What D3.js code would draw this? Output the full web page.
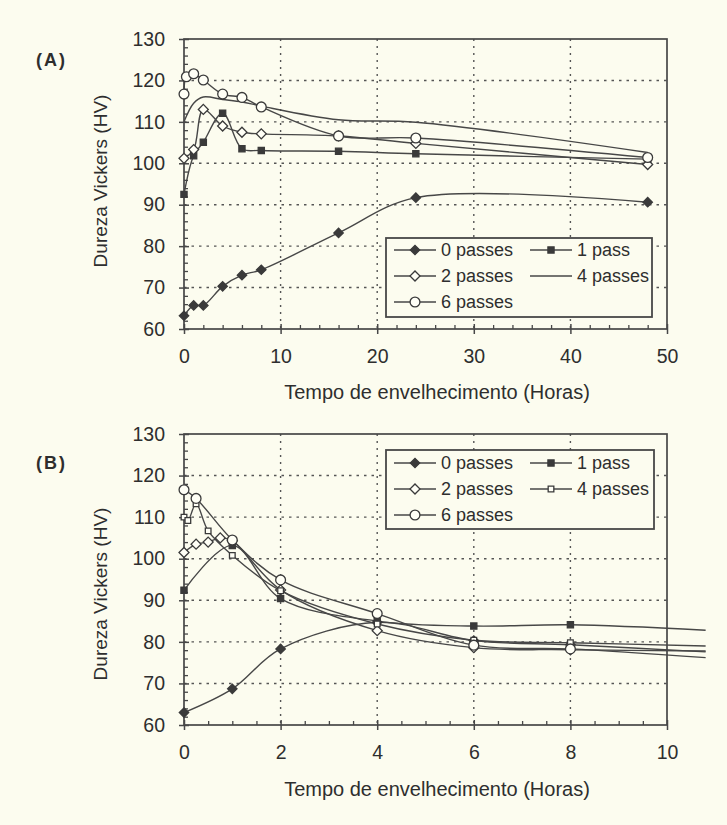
<!DOCTYPE html>
<html><head><meta charset="utf-8">
<script src="https://cdn.jsdelivr.net/npm/d3@7"></script>
<style>
html,body{margin:0;padding:0;background:#fcfcef;}
svg text{font-family:"Liberation Sans",Arial,sans-serif;fill:#2e2e2e;}
</style></head>
<body><svg id="c" width="727" height="825"></svg>
<script>
// ---------- DATA ----------
const seriesNames = ["0 passes", "1 pass", "2 passes", "4 passes", "6 passes"];
const yTicks = [60, 70, 80, 90, 100, 110, 120, 130];
const xTicksA = [0, 10, 20, 30, 40, 50];
const xTicksB = [0, 2, 4, 6, 8, 10];
const yTitle = "Dureza Vickers (HV)";
const xTitle = "Tempo de envelhecimento (Horas)";

// Panel A (long aging times)
const a0x = [0, 1, 2, 4, 6, 8, 16, 24, 48];
const a0y = [63.2, 65.7, 65.7, 70.3, 73.0, 74.3, 83.2, 91.7, 90.6];
const a1x = [0, 1, 2, 4, 6, 8, 16, 24, 48];
const a1y = [92.5, 101.8, 105.1, 112.1, 103.5, 103.1, 102.9, 102.3, 101.0];
const a2x = [0, 1, 2, 4, 6, 8, 16, 24, 48];
const a2y = [101.2, 103.3, 113.0, 109.0, 107.5, 107.1, 106.6, 104.8, 99.7];
const a4x = [0, 1, 2, 4, 6, 8, 16, 24, 48];
const a4y = [110.0, 114.5, 116.0, 115.4, 114.8, 113.8, 110.5, 109.9, 102.6];
const a6x = [0, 0.25, 1, 2, 4, 6, 8, 16, 24, 48];
const a6y = [116.7, 120.9, 121.6, 120.1, 116.7, 115.9, 113.6, 106.6, 106.1, 101.4];

// Panel B (short aging times; lines run slightly past 10 h)
const b0x = [0, 1, 2, 4, 6, 8, 10.8];
const b0y = [63.0, 68.7, 78.3, 84.7, 80.3, 79.3, 77.6];
const b1x = [0, 1, 2, 4, 6, 8, 10.8];
const b1y = [92.4, 103.2, 90.4, 85.0, 83.8, 84.1, 82.8];
const b2x = [0, 0.25, 0.5, 0.75, 1, 2, 4, 6, 8, 10.8];
const b2y = [101.5, 103.5, 104.0, 105.0, 104.3, 92.5, 82.7, 78.6, 78.1, 77.8];
const b4x = [0, 0.08, 0.25, 0.5, 1, 2, 4, 6, 8, 10.8];
const b4y = [110.0, 109.2, 113.2, 106.7, 100.8, 92.3, 84.3, 80.4, 79.8, 79.0];
const b6x = [0, 0.25, 1, 2, 4, 6, 8, 10.8];
const b6y = [116.6, 114.5, 104.5, 94.9, 86.8, 79.2, 78.3, 76.2];

// ---------- STYLE / LAYOUT ----------
const INK = "#474747";
const BG = "#fcfcef";
const markerA = ["fdiamond", "fsquare", "odiamond", null, "ocircle"];
const markerB = ["fdiamond", "fsquare", "odiamond", "osquare", "ocircle"];

const panels = [
  {label: "(A)", labelY: 60, top: 39, bottom: 329, left: 184, right: 667,
   xmax: 50, xTicks: xTicksA, xMinorStep: 2,
   series: [[a0x, a0y], [a1x, a1y], [a2x, a2y], [a4x, a4y], [a6x, a6y]],
   markers: markerA, legend: {x: 386, y: 238, w: 266, h: 79, rows: [250, 276, 302]},
   yTitleY: 181, xTitleY: 399},
  {label: "(B)", labelY: 463, top: 434, bottom: 725, left: 184, right: 667,
   xmax: 10, xTicks: xTicksB, xMinorStep: 0.5,
   series: [[b0x, b0y], [b1x, b1y], [b2x, b2y], [b4x, b4y], [b6x, b6y]],
   markers: markerB, legend: {x: 386, y: 450, w: 268, h: 79, rows: [463, 489, 515]},
   yTitleY: 594, xTitleY: 796}
];

const svg = d3.select("#c");
svg.append("rect").attr("width", 727).attr("height", 825).attr("fill", BG);

function drawMarker(g, type, cx, cy) {
  if (!type) return;
  let sym, size, rot = 0, filled = type[0] === "f";
  if (type.endsWith("diamond")) { sym = d3.symbolSquare; size = filled ? 44 : 50; rot = 45; }
  else if (type.endsWith("square")) { sym = d3.symbolSquare; size = filled ? 38 : 32; }
  else { sym = d3.symbolCircle; size = 76; }
  g.append("path")
    .attr("d", d3.symbol().type(sym).size(size)())
    .attr("transform", `translate(${cx},${cy}) rotate(${rot})`)
    .attr("fill", filled ? "#3a3a3a" : "#fffff6")
    .attr("stroke", "#3a3a3a").attr("stroke-width", 1.3);
}

panels.forEach(p => {
  const x = d3.scaleLinear().domain([0, p.xmax]).range([p.left, p.right]);
  const y = d3.scaleLinear().domain([60, 130]).range([p.bottom, p.top]);
  const g = svg.append("g");

  // gridlines
  g.selectAll(".hg").data(yTicks.filter(v => v > 60 && v < 130)).join("line")
    .attr("x1", p.left).attr("x2", p.right).attr("y1", d => y(d)).attr("y2", d => y(d))
    .attr("stroke", "#555").attr("stroke-width", 1.4).attr("stroke-dasharray", "2.5,5");
  g.selectAll(".vg").data(p.xTicks.filter(v => v > 0 && v < p.xmax)).join("line")
    .attr("y1", p.top).attr("y2", p.bottom).attr("x1", d => x(d)).attr("x2", d => x(d))
    .attr("stroke", "#555").attr("stroke-width", 1.4).attr("stroke-dasharray", "2,5");

  // frame
  g.append("rect").attr("x", p.left).attr("y", p.top)
    .attr("width", p.right - p.left).attr("height", p.bottom - p.top)
    .attr("fill", "none").attr("stroke", INK).attr("stroke-width", 1.7);

  // y axis
  const yMinor = d3.range(60, 130.01, 2).filter(v => v % 10 !== 0);
  const ya = g.append("g").attr("transform", `translate(${p.left},0)`)
    .call(d3.axisLeft(y).tickValues(yTicks).tickSize(5).tickSizeOuter(0).tickPadding(14).tickFormat(d3.format("d")));
  ya.select(".domain").remove();
  ya.selectAll("line").attr("x1", 5).attr("stroke", INK).attr("stroke-width", 1.5);
  ya.selectAll("text").attr("font-size", 19.5).attr("fill", "#2e2e2e");
  const ym = g.append("g").attr("transform", `translate(${p.left},0)`)
    .call(d3.axisLeft(y).tickValues(yMinor).tickSize(-4).tickFormat(""));
  ym.select(".domain").remove();
  ym.selectAll("line").attr("stroke", INK).attr("stroke-width", 1.3);

  // x axis
  const xMinor = d3.range(0, p.xmax + 1e-9, p.xMinorStep)
    .filter(v => !p.xTicks.some(t => Math.abs(t - v) < 1e-9));
  const xa = g.append("g").attr("transform", `translate(0,${p.bottom})`)
    .call(d3.axisBottom(x).tickValues(p.xTicks).tickSize(5).tickSizeOuter(0).tickPadding(15).tickFormat(d3.format("d")));
  xa.select(".domain").remove();
  xa.selectAll("line").attr("y1", -5).attr("stroke", INK).attr("stroke-width", 1.5);
  xa.selectAll("text").attr("font-size", 19.5).attr("fill", "#2e2e2e");
  const xm = g.append("g").attr("transform", `translate(0,${p.bottom})`)
    .call(d3.axisBottom(x).tickValues(xMinor).tickSize(-4).tickFormat(""));
  xm.select(".domain").remove();
  xm.selectAll("line").attr("stroke", INK).attr("stroke-width", 1.3);

  // series
  const line = d3.line().x(d => x(d[0])).y(d => y(d[1])).curve(d3.curveCatmullRom.alpha(0.5));
  p.series.forEach((s, i) => {
    const pts = s[0].map((v, k) => [v, s[1][k]]);
    g.append("path").attr("d", line(pts)).attr("fill", "none")
      .attr("stroke", INK).attr("stroke-width", 1.4);
  });
  p.series.forEach((s, i) => {
    s[0].forEach((v, k) => { if (v <= p.xmax) drawMarker(g, p.markers[i], x(v), y(s[1][k])); });
  });

  // legend
  const L = p.legend;
  g.append("rect").attr("x", L.x).attr("y", L.y).attr("width", L.w).attr("height", L.h)
    .attr("fill", BG).attr("stroke", INK).attr("stroke-width", 1.8);
  const slots = [[0, 0], [1, 0], [0, 1], [1, 1], [0, 2]];
  seriesNames.forEach((name, i) => {
    const col = slots[i][0], row = slots[i][1];
    const x0 = L.x + (col === 0 ? 8 : 144), cy = L.rows[row];
    g.append("line").attr("x1", x0).attr("x2", x0 + 42).attr("y1", cy).attr("y2", cy)
      .attr("stroke", INK).attr("stroke-width", 1.4);
    drawMarker(g, p.markers[i], x0 + 21, cy);
    g.append("text").attr("x", x0 + 47).attr("y", cy).attr("dy", "0.35em")
      .attr("font-size", 18).text(name);
  });

  // labels
  svg.append("text").attr("x", 36).attr("y", p.labelY).attr("dy", "0.35em")
    .attr("font-size", 18).attr("font-weight", "bold").attr("letter-spacing", 2)
    .attr("fill", "#585858").text(p.label);
  svg.append("text").attr("transform", `translate(107,${p.yTitleY}) rotate(-90)`)
    .attr("text-anchor", "middle").attr("font-size", 19).text(yTitle);
  svg.append("text").attr("x", 437).attr("y", p.xTitleY).attr("text-anchor", "middle")
    .attr("font-size", 20).text(xTitle);
});
</script></body></html>
